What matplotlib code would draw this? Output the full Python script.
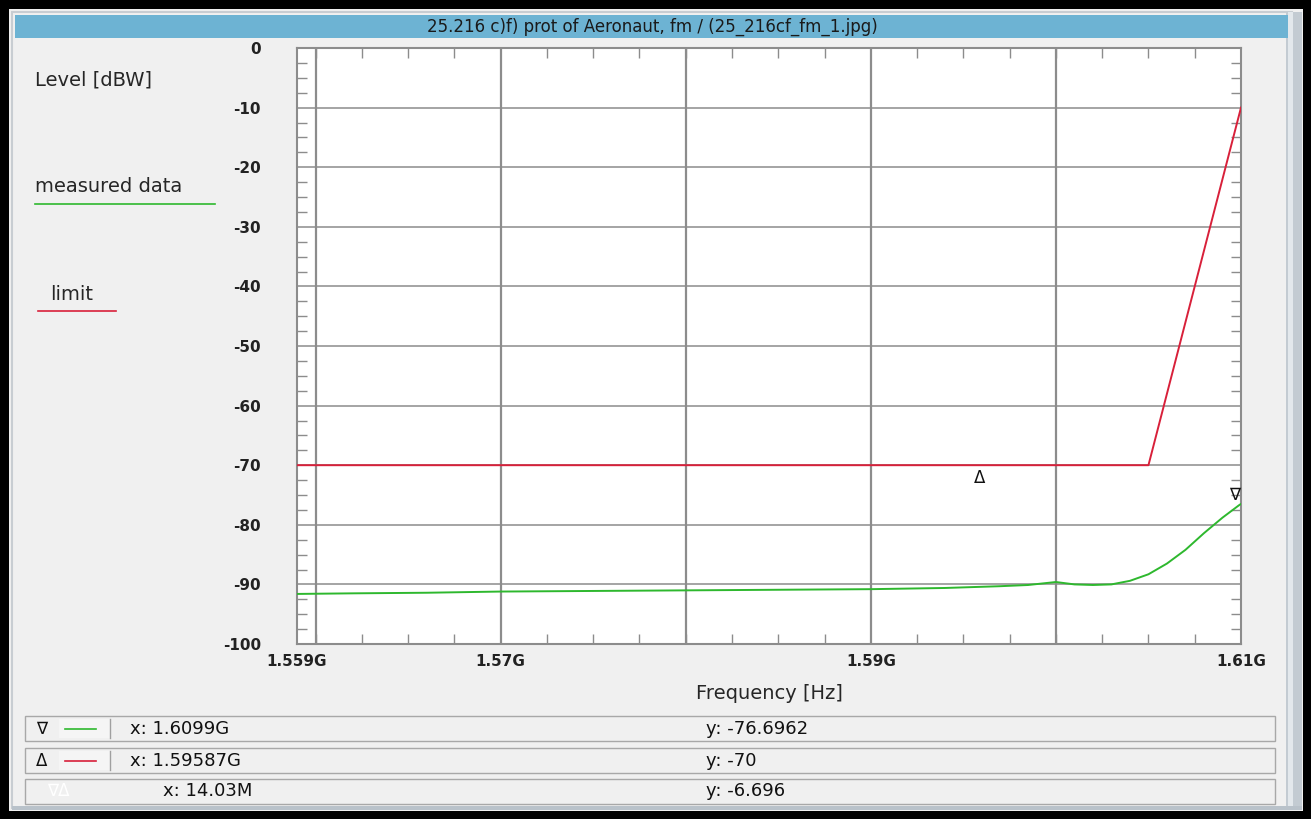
import matplotlib
matplotlib.use("Agg")
import matplotlib.pyplot as plt
from matplotlib.patches import Rectangle
from matplotlib.ticker import MultipleLocator, FixedLocator

# ---------------- data ----------------
meas_freq = [1.559, 1.562, 1.566, 1.570, 1.575, 1.580, 1.585, 1.590, 1.594,
             1.597, 1.5985, 1.600, 1.601, 1.602, 1.603, 1.604, 1.605, 1.606,
             1.607, 1.608, 1.609, 1.6099, 1.610]
meas_level = [-91.6, -91.5, -91.4, -91.2, -91.1, -91.0, -90.9, -90.8, -90.6,
              -90.3, -90.1, -89.6, -90.0, -90.1, -90.0, -89.4, -88.3, -86.5,
              -84.2, -81.4, -78.8, -76.7, -76.5]
limit_freq = [1.559, 1.605, 1.610]
limit_level = [-70, -70, -10]
marker1 = (1.6099, -76.6962)
marker2 = (1.59587, -70)
xtick_vals = [1.559, 1.57, 1.59, 1.61]
xtick_labels = ["1.559G", "1.57G", "1.59G", "1.61G"]
xgrid_vals = [1.56, 1.57, 1.58, 1.59, 1.60]
ytick_vals = [0, -10, -20, -30, -40, -50, -60, -70, -80, -90, -100]
title = "25.216 c)f) prot of Aeronaut, fm / (25_216cf_fm_1.jpg)"
rows = [("\u2207", "#2eb82e", "x: 1.6099G", "y: -76.6962"),
        ("\u0394", "#d8203a", "x: 1.59587G", "y: -70"),
        ("\u2207\u0394", None, "x: 14.03M", "y: -6.696")]

FONT = ["DejaVu Sans", "Liberation Sans"]
plt.rcParams["font.family"] = FONT

W, H = 1311, 819
fig = plt.figure(figsize=(W / 100, H / 100), dpi=100)
fig.patch.set_facecolor("#f0f0f0")

def fx(px):
    return px / W

def fy(py):
    return 1 - py / H

TXT = "#262626"
LAB = 14

# background overlay axes in pixel coords
bg = fig.add_axes([0, 0, 1, 1], zorder=-5)
bg.set_xlim(0, W)
bg.set_ylim(H, 0)
bg.axis("off")
# black outer frame
for r in [(0, 0, W, 9), (0, 0, 9, H), (W - 8, 0, 8, H), (0, H - 8, W, 8)]:
    bg.add_patch(Rectangle((r[0], r[1]), r[2], r[3], color="black", lw=0))
# inner panel border
bg.add_patch(Rectangle((12, 12), 1280, 796, fill=False, ec="#c8cdd2", lw=1.5))
# right scroll strip
bg.add_patch(Rectangle((1286, 12), 16, 797, color="#c3cbd2", lw=0))
bg.add_patch(Rectangle((1288, 12), 5, 797, color="#e3e8ec", lw=0))
# bottom strip
bg.add_patch(Rectangle((12, 806), 1290, 4, color="#b9c2ca", lw=0))
# title bar
bg.add_patch(Rectangle((15, 15), 1273, 23, color="#6db3d3", lw=0))
bg.text(652, 27, title, ha="center", va="center", fontsize=12, color="#1a1a1a")

# left legend labels
bg.text(35, 80, "Level [dBW]", ha="left", va="center", fontsize=LAB, color=TXT)
bg.text(35, 187, "measured data", ha="left", va="center", fontsize=LAB, color=TXT)
bg.plot([35, 215], [204, 204], color="#2eb82e", lw=1.2)
bg.text(50, 294, "limit", ha="left", va="center", fontsize=LAB, color=TXT)
bg.plot([38, 116], [311, 311], color="#d8203a", lw=1.2)

# bottom rows
row_y = [716, 748, 779]
for (sym, col, xt, yt), y0 in zip(rows, row_y):
    bg.add_patch(Rectangle((25, y0), 1250, 25, fill=False, ec="#a8a8a8", lw=1.0))
    cy = y0 + 12.5
    if col is not None:
        bg.text(42, cy, sym, ha="center", va="center", fontsize=12, color="#111111")
        bg.add_patch(Rectangle((59, y0 + 3), 51, 19, fc="#f5f5f5", ec="none"))
        bg.plot([110, 110], [y0 + 3, y0 + 22], color="#a0a0a0", lw=1)
        bg.plot([65, 96], [cy, cy], color=col, lw=1.2)
        bg.text(130, cy, xt, ha="left", va="center", fontsize=13, color="#111111")
    else:
        bg.text(58, cy, sym, ha="center", va="center", fontsize=12, color="#ffffff")
        bg.text(163, cy, xt, ha="left", va="center", fontsize=13, color="#111111")
    bg.text(706, cy, yt, ha="left", va="center", fontsize=13, color="#111111")

# ---------------- main plot ----------------
L, R, T, B = 297, 1241, 48, 644
ax = fig.add_axes([fx(L), fy(B), fx(R - L), (B - T) / H])
ax.set_facecolor("white")
ax.set_xlim(1.559, 1.610)
ax.set_ylim(-100, 0)

for xv in xgrid_vals:
    ax.axvline(xv, color="#8c8c8c", lw=1.6, zorder=1)
for yv in ytick_vals[1:-1]:
    ax.axhline(yv, color="#8c8c8c", lw=1.1, zorder=1)

ax.plot(limit_freq, limit_level, color="#d8203a", lw=1.4, zorder=3)
ax.plot(meas_freq, meas_level, color="#2eb82e", lw=1.4, zorder=3)

ax.annotate("\u0394", xy=marker2, xytext=(0, -3), textcoords="offset points",
            ha="center", va="top", fontsize=12, color="#111111")
ax.annotate("\u2207", xy=marker1, xytext=(-3, 1), textcoords="offset points",
            ha="center", va="bottom", fontsize=12, color="#111111")

for s in ax.spines.values():
    s.set_color("#8c8c8c")
    s.set_linewidth(1.5)

ax.yaxis.set_major_locator(FixedLocator(ytick_vals))
ax.set_yticklabels([str(v) for v in ytick_vals])
ax.yaxis.set_minor_locator(MultipleLocator(2.5))
ax.xaxis.set_major_locator(FixedLocator(xtick_vals))
ax.set_xticklabels(xtick_labels)
ax.xaxis.set_minor_locator(MultipleLocator(0.0025))

ax.tick_params(axis="both", which="major", length=0, labelsize=11,
               labelcolor="#222222")
ax.tick_params(axis="y", which="major", pad=26)
ax.tick_params(axis="x", which="major", pad=7)
ax.tick_params(axis="both", which="minor", direction="in", length=7,
               width=1.0, color="#8c8c8c", top=True, right=True)
for lab in ax.get_xticklabels() + ax.get_yticklabels():
    lab.set_fontweight("bold")

ax.set_xlabel("Frequency [Hz]", fontsize=LAB, color=TXT, labelpad=11)

fig.savefig("out.png", dpi=100, facecolor=fig.get_facecolor())
